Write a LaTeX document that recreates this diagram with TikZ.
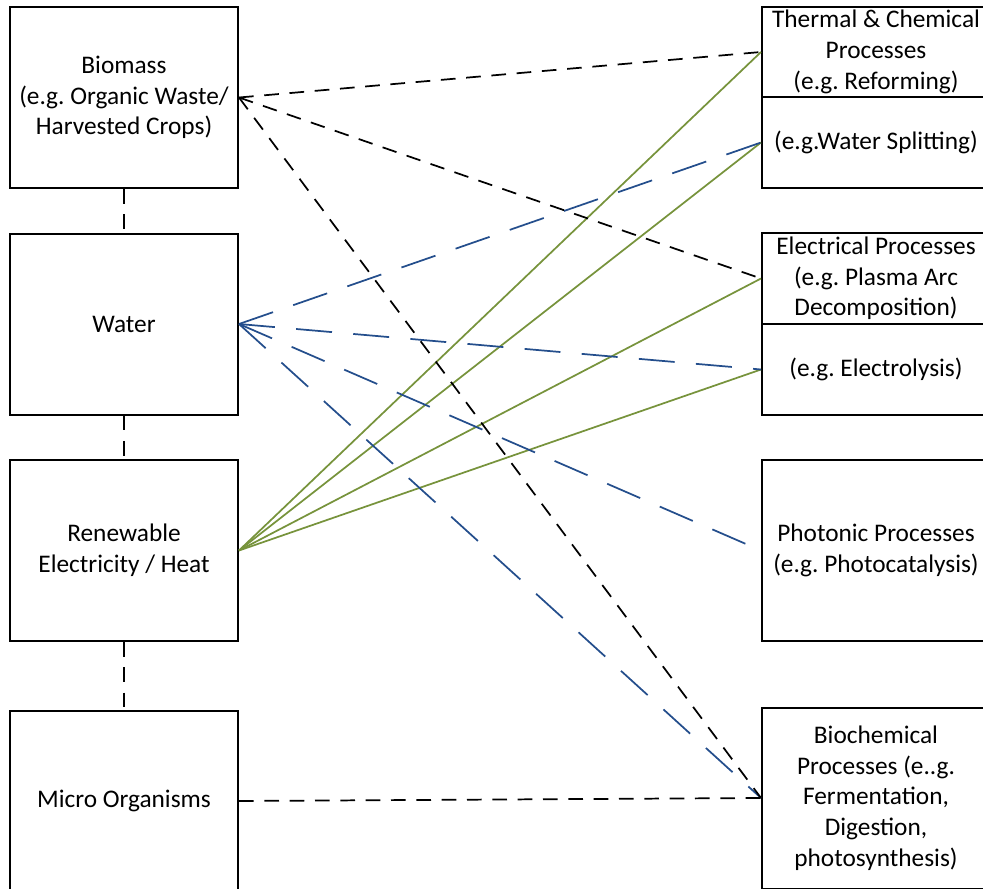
\documentclass[tikz,border=0pt]{standalone}
\usepackage{fontspec}
\setmainfont{Carlito}
\frenchspacing
\definecolor{linkgreen}{RGB}{119,147,60}
\definecolor{linkblue}{RGB}{36,78,140}

\begin{document}
\begin{tikzpicture}[x=0.75pt, y=-0.75pt,
    box/.style={draw, line width=1.5pt, minimum width=171pt, minimum height=135.75pt, align=center, inner sep=2pt, font=\fontsize{19}{23}\selectfont},
    halfbox/.style={box, minimum height=68pt},
    blacklink/.style={line width=1.3pt, dash pattern=on 11pt off 8pt},
    bluelink/.style={linkblue, line width=1.3pt, dash pattern=on 27pt off 16pt},
    greenlink/.style={linkgreen, line width=1.3pt}]
    \useasboundingbox (0,0) rectangle (983,889);
    \clip (0,0) rectangle (983,889);

    %sources
    \node[box] (biomass) at (124,97.5) {Biomass\\(e.g. Organic Waste/\\Harvested Crops)};
    \node[box] (water) at (124,324) {Water};
    \node[box] (renewable) at (124,550.5) {Renewable\\Electricity / Heat};
    \node[box] (micro) at (124,801) {Micro Organisms};

    %processes
    \node[halfbox] (thermal) at (876,52) {Thermal \& Chemical\\Processes\\(e.g. Reforming)};
    \node[halfbox] (splitting) at (876,142.5) {(e.g.Water Splitting)};
    \node[halfbox] (electrical) at (876,278.5) {Electrical Processes\\(e.g. Plasma Arc\\Decomposition)};
    \node[halfbox] (electrolysis) at (876,369.5) {(e.g. Electrolysis)};
    \node[box] (photonic) at (876,550.5) {Photonic Processes\\(e.g. Photocatalysis)};
    \node[box] (biochem) at (876,798) {Biochemical\\Processes (e..g.\\Fermentation,\\Digestion,\\photosynthesis)};

    %left column
    \draw[blacklink] (biomass.south) -- (water.north);
    \draw[blacklink] (water.south) -- (renewable.north);
    \draw[blacklink] (renewable.south) -- (micro.north);

    %links
    \draw[greenlink] (renewable.east) -- (thermal.west);
    \draw[greenlink] (renewable.east) -- (splitting.west);
    \draw[greenlink] (renewable.east) -- (electrical.west);
    \draw[greenlink] (renewable.east) -- (electrolysis.west);

    \draw[bluelink] (water.east) -- (splitting.west);
    \draw[bluelink] (water.east) -- (electrolysis.west);
    \draw[bluelink] (water.east) -- (photonic.west);
    \draw[bluelink] (water.east) -- (biochem.west);

    \draw[blacklink] (biomass.east) -- (thermal.west);
    \draw[blacklink] (biomass.east) -- (electrical.west);
    \draw[blacklink] (biomass.east) -- (biochem.west);

    \draw[blacklink] (micro.east) -- (biochem.west);
\end{tikzpicture}
\end{document}
